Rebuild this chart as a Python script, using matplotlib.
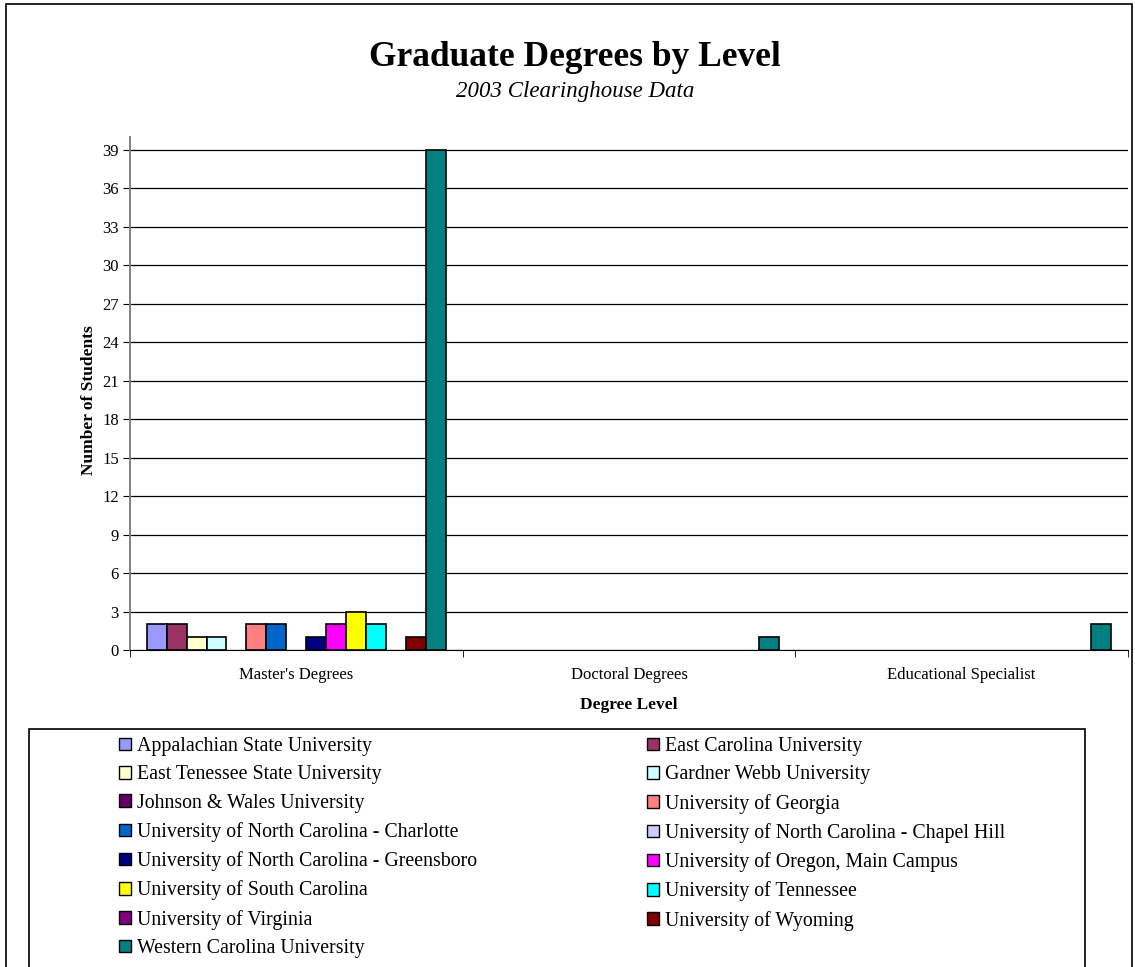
import numpy as np
import matplotlib
matplotlib.use("Agg")
import matplotlib.pyplot as plt
import matplotlib.patches as mpatches

# ── data ────────────────────────────────────────────────────────────
categories = ["Master's Degrees", "Doctoral Degrees", "Educational Specialist"]

schools = [
    "Appalachian State University",
    "East Carolina University",
    "East Tenessee State University",
    "Gardner Webb University",
    "Johnson & Wales University",
    "University of Georgia",
    "University of North Carolina - Charlotte",
    "University of North Carolina - Chapel Hill",
    "University of North Carolina - Greensboro",
    "University of Oregon, Main Campus",
    "University of South Carolina",
    "University of Tennessee",
    "University of Virginia",
    "University of Wyoming",
    "Western Carolina University",
]

# students per school: [master's, doctoral, ed. specialist]
values = [
    [2, 0, 0],
    [2, 0, 0],
    [1, 0, 0],
    [1, 0, 0],
    [0, 0, 0],
    [2, 0, 0],
    [2, 0, 0],
    [0, 0, 0],
    [1, 0, 0],
    [2, 0, 0],
    [3, 0, 0],
    [2, 0, 0],
    [0, 0, 0],
    [1, 0, 0],
    [39, 1, 2],
]

colors = [
    "#9999FF", "#993366", "#FFFFCC", "#CCFFFF", "#660066",
    "#FF8080", "#0066CC", "#CCCCFF", "#000080", "#FF00FF",
    "#FFFF00", "#00FFFF", "#800080", "#800000", "#008080",
]

yticks = list(range(0, 40, 3))

# ── style ───────────────────────────────────────────────────────────
plt.rcParams.update({
    "font.family": "Liberation Serif",
    "font.size": 12,
})

W, H = 1135, 967
fig = plt.figure(figsize=(W / 100, H / 100), dpi=100)

def fx(px):
    return px / W

def fy(py):
    return 1 - py / H

ax = fig.add_axes([fx(130), fy(650), fx(1128) - fx(130), fy(137) - fy(650)])

n = len(schools)
bw = 0.06
x = np.arange(len(categories))
for i, (name, vals, c) in enumerate(zip(schools, values, colors)):
    off = -0.45 + bw * (i + 0.5)
    v = np.array(vals, dtype=float)
    mask = v > 0
    ax.bar(x[mask] + off, v[mask], width=bw, color=c, edgecolor="black",
           linewidth=1.2, zorder=3)

ax.set_xlim(-0.5, 2.5)
ax.set_ylim(0, 40)
ax.set_yticks(yticks)
ax.yaxis.grid(True, color="black", lw=0.9, zorder=0)
ax.set_axisbelow(True)

ax.set_xticks(x)
ax.set_xticklabels(categories, fontsize=12)
ax.set_xticks([-0.5, 0.5, 1.5, 2.5], minor=True)
ax.tick_params(axis="x", which="major", length=0, pad=12.5)
ax.tick_params(axis="x", which="minor", length=5, direction="out", color="black")
ax.tick_params(axis="y", length=5, direction="out", pad=3, labelsize=12)

for s in ["top", "right"]:
    ax.spines[s].set_visible(False)
ax.spines["left"].set_color("#808080")
ax.spines["left"].set_linewidth(1.4)
ax.spines["bottom"].set_color("black")

ax.set_ylabel("Number of Students", fontsize=12.5, fontweight="bold")
ax.yaxis.set_label_coords(-0.033, 0.487)
ax.set_xlabel("Degree Level", fontsize=12.5, fontweight="bold", labelpad=10)

fig.text(fx(575), fy(58), "Graduate Degrees by Level", ha="center", va="center",
         fontsize=25.5, fontweight="bold")
fig.text(fx(575), fy(91), "2003 Clearinghouse Data", ha="center", va="center",
         fontsize=16.5, style="italic")

# ── legend (two columns, row-wise order) ───────────────────────────
handles = [mpatches.Patch(facecolor=c, edgecolor="black", lw=1.0) for c in colors]
leg_kw = dict(loc="upper left", frameon=False, fontsize=14.3, borderpad=0,
              borderaxespad=0, handlelength=0.6, handleheight=0.6,
              handletextpad=0.3, labelspacing=0.47)
left_idx = list(range(0, n, 2))
right_idx = list(range(1, n, 2))
fig.legend([handles[i] for i in left_idx], [schools[i] for i in left_idx],
           bbox_to_anchor=(fx(119), fy(737)), **leg_kw)
fig.legend([handles[i] for i in right_idx], [schools[i] for i in right_idx],
           bbox_to_anchor=(fx(647), fy(737)), **leg_kw)

# legend frame and chart border
fig.patches.append(mpatches.Rectangle((fx(29), fy(990)), fx(1085) - fx(29), fy(729) - fy(990),
                                      transform=fig.transFigure, fill=False,
                                      edgecolor="black", lw=1.2))
fig.patches.append(mpatches.Rectangle((fx(6), fy(990)), fx(1132) - fx(6), fy(4) - fy(990),
                                      transform=fig.transFigure, fill=False,
                                      edgecolor="black", lw=1.2))

fig.savefig("out.png", dpi=100)
